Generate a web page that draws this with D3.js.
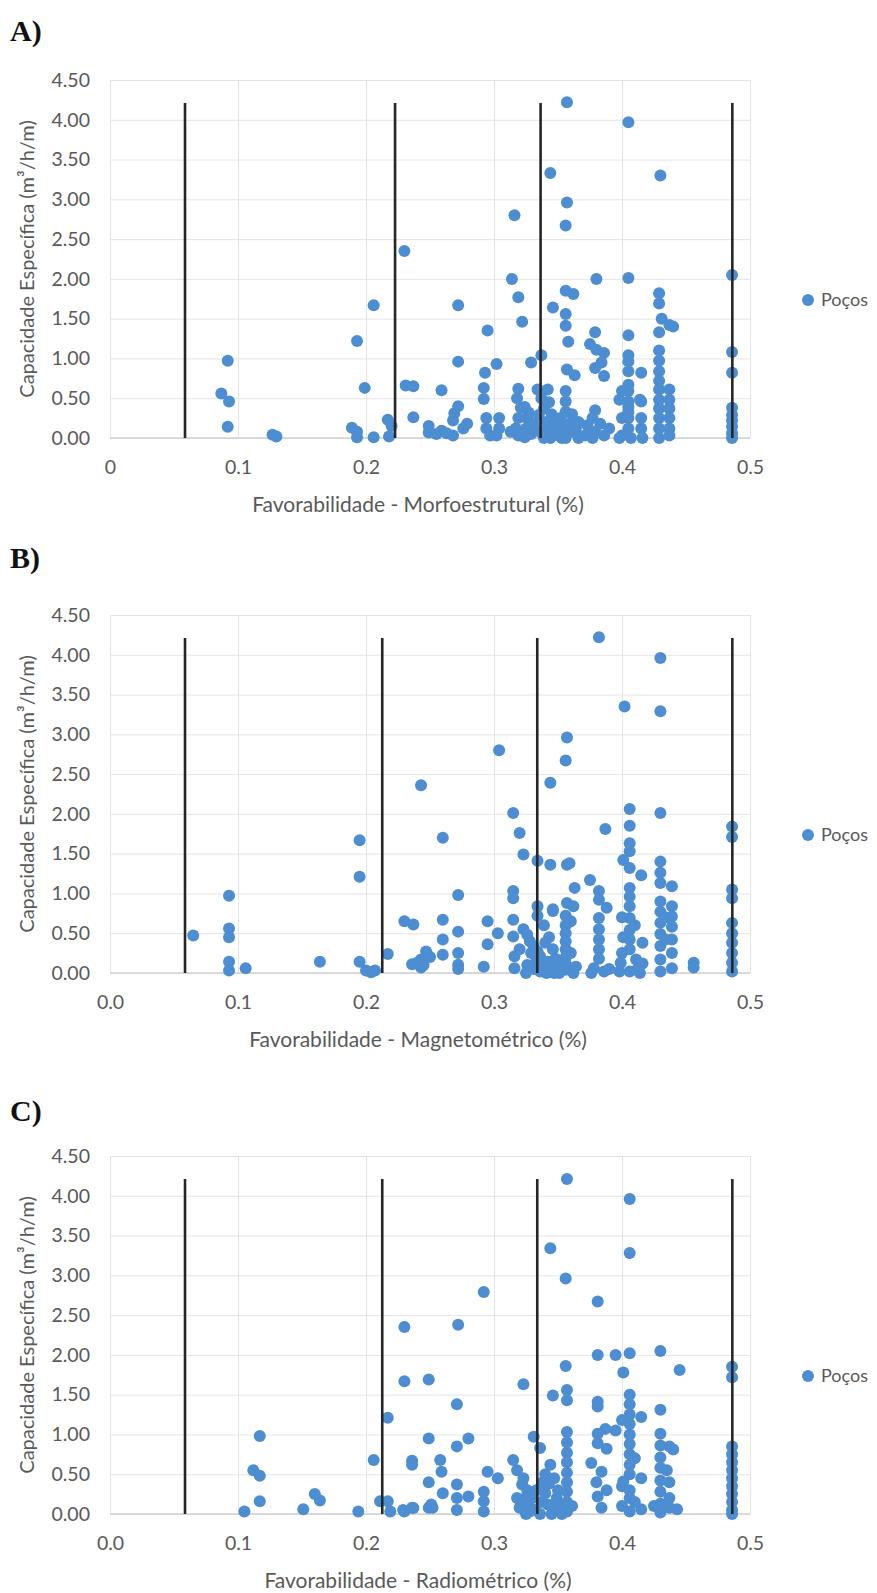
<!DOCTYPE html>
<html>

<head>
    <meta charset="utf-8">
    <title>Favorabilidade x Capacidade Especifica</title>
    <style>
        body { margin: 0; background: #fff; }
        text { font-family: Lato, "Open Sans", sans-serif; }
    </style>
</head>

<body>
    <script src="https://d3js.org/d3.v7.min.js"></script>
    <script>
    // valores: [favorabilidade, capacidade especifica]
    var pocosA = [
        [0.087,0.56],[0.092,0.97],[0.093,0.46],[0.092,0.14],[0.127,0.04],[0.130,0.02],
        [0.189,0.13],[0.193,0.08],[0.193,0.01],[0.193,1.22],[0.199,0.63],[0.206,1.67],[0.206,0.01],
        [0.217,0.23],[0.220,0.15],[0.218,0.02],
        [0.230,2.35],[0.231,0.66],[0.237,0.65],[0.237,0.26],
        [0.249,0.15],[0.249,0.07],[0.255,0.05],[0.259,0.09],[0.259,0.60],
        [0.263,0.06],[0.268,0.03],[0.268,0.22],[0.269,0.31],[0.272,0.40],[0.276,0.12],[0.279,0.18],[0.272,0.96],[0.272,1.67],
        [0.295,1.35],[0.293,0.82],[0.302,0.93],[0.292,0.63],[0.292,0.49],
        [0.294,0.25],[0.304,0.25],[0.294,0.12],[0.304,0.12],[0.297,0.03],[0.302,0.03],
        [0.316,2.80],[0.314,2.00],[0.319,1.77],[0.322,1.46],
        [0.319,0.62],[0.318,0.50],[0.321,0.38],[0.324,0.39],[0.319,0.25],[0.326,0.25],[0.317,0.12],[0.325,0.12],[0.319,0.03],[0.329,0.05],[0.324,0.01],
        [0.313,0.08],[0.327,0.32],[0.331,0.18],
        [0.329,0.95],[0.337,1.04],
        [0.334,0.61],[0.342,0.61],[0.337,0.50],[0.343,0.45],[0.339,0.37],[0.335,0.29],[0.341,0.20],[0.343,0.16],[0.336,0.08],[0.341,0.03],[0.344,0.00],[0.339,0.00],
        [0.345,0.30],[0.347,0.10],[0.349,0.22],
        [0.344,3.33],[0.346,1.64],
        [0.357,4.22],[0.357,2.96],[0.356,2.67],[0.356,1.85],[0.362,1.81],[0.356,1.56],[0.356,1.41],[0.358,1.21],[0.357,0.86],[0.363,0.79],
        [0.356,0.59],[0.356,0.46],[0.356,0.33],[0.352,0.25],[0.359,0.18],[0.354,0.12],[0.362,0.08],[0.356,0.00],[0.350,0.03],[0.353,0.00],[0.366,0.00],[0.364,0.12],
        [0.361,0.30],[0.366,0.20],
        [0.379,1.33],[0.380,2.00],[0.375,1.18],[0.380,1.11],[0.386,1.07],[0.384,0.95],[0.379,0.88],[0.386,0.78],
        [0.379,0.35],[0.377,0.25],[0.383,0.18],[0.373,0.16],[0.379,0.08],[0.371,0.03],[0.377,0.00],[0.386,0.03],[0.390,0.12],
        [0.405,3.97],[0.405,2.01],[0.405,1.29],[0.405,1.04],[0.405,0.96],[0.405,0.84],[0.415,0.82],[0.405,0.67],
        [0.400,0.59],[0.405,0.59],[0.415,0.46],[0.405,0.46],[0.405,0.33],[0.400,0.25],[0.405,0.25],[0.415,0.25],[0.405,0.12],[0.415,0.12],
        [0.400,0.03],[0.407,0.00],[0.416,0.00],[0.398,0.00],[0.405,0.39],[0.414,0.48],[0.398,0.48],
        [0.430,3.30],[0.429,1.82],[0.429,1.69],[0.431,1.50],[0.437,1.42],[0.440,1.40],[0.429,1.33],
        [0.429,1.10],[0.429,0.97],[0.429,0.84],[0.429,0.72],[0.429,0.61],[0.437,0.61],[0.429,0.48],[0.437,0.48],[0.429,0.37],[0.437,0.37],
        [0.429,0.25],[0.437,0.25],[0.429,0.12],[0.437,0.12],[0.429,0.00],[0.437,0.03],
        [0.486,2.05],[0.486,1.08],[0.486,0.82],[0.486,0.38],[0.486,0.29],[0.486,0.22],[0.486,0.14],[0.486,0.06],[0.486,0.00]
    ];

    var pocosB = [
        [0.065,0.47],[0.093,0.97],[0.093,0.56],[0.093,0.45],[0.093,0.14],[0.093,0.03],[0.106,0.06],
        [0.164,0.14],[0.195,1.67],[0.195,1.21],[0.195,0.14],[0.200,0.03],[0.207,0.03],[0.204,0.01],
        [0.217,0.24],[0.230,0.65],[0.237,0.61],[0.243,2.36],
        [0.236,0.11],[0.240,0.13],[0.243,0.17],[0.247,0.27],[0.250,0.20],[0.243,0.07],[0.245,0.10],
        [0.260,1.70],[0.260,0.67],[0.260,0.42],[0.260,0.23],[0.272,0.98],[0.272,0.52],[0.272,0.25],[0.272,0.105],[0.272,0.05],
        [0.295,0.65],[0.303,0.50],[0.295,0.36],[0.292,0.08],
        [0.304,2.80],[0.315,2.01],[0.320,1.76],[0.323,1.49],
        [0.315,1.03],[0.315,0.94],[0.315,0.67],[0.315,0.46],[0.316,0.21],[0.316,0.06],
        [0.323,0.55],[0.326,0.48],[0.328,0.40],[0.331,0.33],[0.334,0.27],[0.336,0.21],[0.333,0.15],[0.338,0.10],[0.331,0.05],[0.336,0.02],
        [0.341,0.00],[0.345,0.06],[0.342,0.14],[0.346,0.30],[0.343,0.45],[0.339,0.60],[0.334,0.72],[0.346,0.78],
        [0.326,0.10],[0.329,0.25],[0.340,0.38],[0.348,0.18],[0.352,0.10],[0.360,0.25],[0.320,0.30],[0.325,0.00],[0.347,0.00],
        [0.356,0.72],[0.356,0.60],[0.356,0.50],[0.356,0.40],[0.356,0.30],[0.356,0.20],[0.356,0.12],[0.356,0.04],[0.362,0.00],[0.351,0.00],[0.364,0.08],[0.360,0.65],
        [0.344,2.39],[0.357,2.96],[0.356,2.67],[0.334,1.41],[0.344,1.36],[0.357,1.36],[0.359,1.38],
        [0.334,0.84],[0.346,0.80],[0.357,0.88],[0.362,0.84],[0.363,1.07],[0.375,1.17],
        [0.382,4.22],[0.387,1.81],[0.382,1.03],[0.382,0.92],[0.388,0.82],[0.382,0.69],[0.382,0.55],[0.382,0.42],[0.382,0.30],[0.382,0.18],
        [0.378,0.06],[0.386,0.02],[0.376,0.00],[0.390,0.05],
        [0.402,3.35],[0.406,2.06],[0.406,1.85],[0.406,1.63],[0.406,1.53],[0.401,1.42],[0.406,1.32],[0.415,1.23],[0.406,1.07],[0.406,0.96],
        [0.406,0.84],[0.406,0.69],[0.406,0.54],[0.406,0.42],[0.406,0.30],[0.400,0.25],[0.416,0.38],[0.411,0.17],[0.399,0.13],[0.416,0.12],
        [0.406,0.02],[0.398,0.02],[0.414,0.00],[0.410,0.60],[0.401,0.45],[0.400,0.70],[0.412,0.05],
        [0.430,3.96],[0.430,3.29],[0.430,2.01],[0.430,1.40],[0.430,1.26],[0.430,1.13],[0.439,1.09],[0.430,0.90],[0.439,0.84],[0.430,0.77],
        [0.439,0.71],[0.430,0.63],[0.439,0.58],[0.430,0.49],[0.439,0.42],[0.430,0.34],[0.439,0.25],[0.430,0.17],[0.439,0.06],[0.430,0.02],
        [0.434,0.42],[0.434,0.70],
        [0.456,0.13],[0.456,0.07],
        [0.486,1.84],[0.486,1.71],[0.486,1.05],[0.486,0.94],[0.486,0.63],[0.486,0.50],[0.486,0.38],[0.486,0.25],[0.486,0.13],[0.486,0.02]
    ];

    var pocosC = [
        [0.105,0.03],[0.112,0.55],[0.117,0.48],[0.117,0.98],[0.117,0.16],[0.151,0.06],[0.160,0.25],[0.164,0.17],
        [0.194,0.03],[0.206,0.68],[0.217,1.21],[0.211,0.16],[0.217,0.16],[0.219,0.03],
        [0.230,2.35],[0.230,1.67],[0.249,1.69],[0.249,0.95],[0.236,0.67],[0.236,0.62],[0.249,0.40],[0.230,0.03],[0.236,0.08],[0.249,0.08],[0.252,0.08],
        [0.258,0.68],[0.259,0.53],[0.260,0.26],[0.251,0.12],[0.237,0.075],[0.229,0.05],
        [0.272,2.38],[0.271,1.38],[0.280,0.95],[0.271,0.85],[0.271,0.37],[0.271,0.20],[0.280,0.22],[0.271,0.05],
        [0.292,2.79],[0.295,0.53],[0.303,0.45],[0.292,0.28],[0.292,0.16],[0.292,0.03],
        [0.323,1.63],[0.315,0.68],[0.318,0.55],[0.322,0.37],[0.318,0.20],[0.320,0.08],[0.326,0.24],
        [0.323,0.45],[0.326,0.30],[0.330,0.20],[0.327,0.12],[0.332,0.05],[0.337,0.15],[0.340,0.26],[0.343,0.38],[0.340,0.50],
        [0.346,0.08],[0.349,0.20],[0.336,0.00],[0.345,0.00],[0.352,0.12],[0.350,0.30],[0.328,0.03],[0.321,0.12],[0.344,0.62],
        [0.333,0.30],[0.338,0.40],[0.347,0.45],[0.353,0.00],[0.325,0.00],[0.342,0.12],[0.361,0.10],
        [0.331,0.97],[0.336,0.83],
        [0.344,3.34],[0.346,1.49],[0.357,4.21],[0.356,2.96],[0.356,1.86],[0.357,1.56],[0.357,1.43],
        [0.357,1.03],[0.357,0.90],[0.357,0.77],[0.357,0.65],[0.357,0.52],[0.357,0.40],[0.357,0.28],[0.357,0.15],[0.357,0.03],
        [0.381,2.67],[0.381,2.00],[0.395,2.00],[0.406,2.02],[0.401,1.78],[0.381,1.41],[0.381,1.35],
        [0.381,1.01],[0.387,1.07],[0.395,1.05],[0.381,0.89],[0.388,0.82],[0.376,0.64],[0.384,0.53],[0.380,0.40],[0.381,0.22],[0.388,0.30],[0.384,0.08],
        [0.406,3.96],[0.406,3.28],[0.406,1.50],[0.406,1.38],[0.406,1.25],[0.415,1.22],[0.400,1.18],[0.406,1.13],[0.406,1.00],[0.406,0.88],
        [0.406,0.75],[0.406,0.62],[0.406,0.50],[0.415,0.45],[0.401,0.41],[0.406,0.30],[0.406,0.20],[0.400,0.10],[0.406,0.03],[0.415,0.06],
        [0.410,0.15],[0.400,0.35],[0.410,0.70],
        [0.430,2.05],[0.445,1.81],[0.430,1.31],[0.430,1.01],[0.437,0.85],[0.440,0.81],[0.430,0.86],[0.430,0.71],[0.430,0.58],[0.430,0.42],
        [0.437,0.40],[0.430,0.28],[0.437,0.20],[0.430,0.13],[0.443,0.06],[0.430,0.02],[0.437,0.08],[0.435,0.55],[0.425,0.10],
        [0.486,1.85],[0.486,1.72],[0.486,0.85],[0.486,0.75],[0.486,0.65],[0.486,0.55],[0.486,0.45],[0.486,0.35],[0.486,0.25],[0.486,0.15],[0.486,0.05],[0.486,0.00]
    ];

    // limites das classes (linhas verticais)
    var limitesA = [0.0586, 0.2227, 0.3364, 0.4862];
    var limitesB = [0.0586, 0.2127, 0.3338, 0.4862];
    var limitesC = [0.0586, 0.2127, 0.3338, 0.4862];
    var topoLimite = 4.21;

    var xTicks = [0, 0.1, 0.2, 0.3, 0.4, 0.5];
    var xLabelsA = ["0", "0.1", "0.2", "0.3", "0.4", "0.5"];
    var xLabelsBC = ["0.0", "0.1", "0.2", "0.3", "0.4", "0.5"];
    var yTicks = [0, 0.5, 1, 1.5, 2, 2.5, 3, 3.5, 4, 4.5];

    var titulosX = [
        "Favorabilidade - Morfoestrutural (%)",
        "Favorabilidade - Magnetométrico (%)",
        "Favorabilidade - Radiométrico (%)"
    ];
    var letras = ["A)", "B)", "C)"];
    var tituloY = "Capacidade Específica (m³/h/m)";
    var legenda = "Poços";

    const width = 877, height = 1593;
    const left = 110, right = 750;
    const azul = "#4d8dd1";

    var paineis = [
        { pts: pocosA, lim: limitesA, lab: xLabelsA, top: 80, bottom: 438, letraY: 41 },
        { pts: pocosB, lim: limitesB, lab: xLabelsBC, top: 615, bottom: 973, letraY: 568 },
        { pts: pocosC, lim: limitesC, lab: xLabelsBC, top: 1156, bottom: 1514, letraY: 1121 }
    ];

    var svg = d3.select("body")
        .append("svg")
        .attr("width", width)
        .attr("height", height);

    paineis.forEach(function(p, i) {
        var x = d3.scaleLinear().domain([0, 0.5]).range([left, right]);
        var y = d3.scaleLinear().domain([0, 4.5]).range([p.bottom, p.top]);
        var g = svg.append("g");

        // letra do painel
        g.append("text")
            .attr("x", 10)
            .attr("y", p.letraY)
            .style("font-family", "'Liberation Serif', serif")
            .style("font-weight", "bold")
            .style("font-size", "30px")
            .attr("fill", "#111")
            .text(letras[i]);

        // grade horizontal + rotulos y
        var yAxis = g.append("g")
            .attr("transform", "translate(" + left + ",0)")
            .call(d3.axisLeft(y).tickValues(yTicks)
                .tickSize(-(right - left)).tickPadding(20)
                .tickFormat(d3.format(".2f")));
        yAxis.select(".domain").remove();
        yAxis.selectAll("line").attr("stroke", "#e4e4e4");
        yAxis.selectAll("text").attr("fill", "#595959").style("font-size", "19.5px");

        // grade vertical + rotulos x
        var xAxis = g.append("g")
            .attr("transform", "translate(0," + p.bottom + ")")
            .call(d3.axisBottom(x).tickValues(xTicks)
                .tickSize(-(p.bottom - p.top)).tickPadding(22)
                .tickFormat(function(d, k) { return p.lab[k]; }));
        xAxis.select(".domain").remove();
        xAxis.selectAll("line").attr("stroke", "#e4e4e4");
        xAxis.selectAll("text").attr("fill", "#595959").style("font-size", "19.5px");

        // eixo horizontal
        g.append("line")
            .attr("x1", left).attr("x2", right)
            .attr("y1", y(0)).attr("y2", y(0))
            .attr("stroke", "#d0d0d0")
            .attr("stroke-width", 1.5);

        // pontos
        g.selectAll("circle.poco")
            .data(p.pts)
            .enter()
            .append("circle")
            .attr("class", "poco")
            .attr("cx", function(d) { return x(d[0]); })
            .attr("cy", function(d) { return y(d[1]); })
            .attr("r", 6)
            .attr("fill", azul);

        // linhas de limite das classes
        g.selectAll("line.limite")
            .data(p.lim)
            .enter()
            .append("line")
            .attr("class", "limite")
            .attr("x1", function(d) { return x(d); })
            .attr("x2", function(d) { return x(d); })
            .attr("y1", y(0))
            .attr("y2", y(topoLimite))
            .attr("stroke", "#262626")
            .attr("stroke-width", 2.6);

        // titulos dos eixos
        g.append("text")
            .attr("x", 418)
            .attr("y", p.bottom + 74)
            .attr("text-anchor", "middle")
            .attr("fill", "#595959")
            .style("font-size", "21px")
            .text(titulosX[i]);

        g.append("text")
            .attr("transform", "translate(34," + (p.top + p.bottom) / 2 + ") rotate(-90)")
            .attr("text-anchor", "middle")
            .attr("fill", "#595959")
            .style("font-size", "20px")
            .text(tituloY);

        // legenda
        var ly = (p.top + p.bottom) / 2 + 41;
        g.append("circle")
            .attr("cx", 808).attr("cy", ly)
            .attr("r", 6)
            .attr("fill", azul);
        g.append("text")
            .attr("x", 821).attr("y", ly)
            .attr("dy", "0.35em")
            .attr("fill", "#595959")
            .style("font-size", "18px")
            .text(legenda);
    });
    </script>
</body>

</html>
